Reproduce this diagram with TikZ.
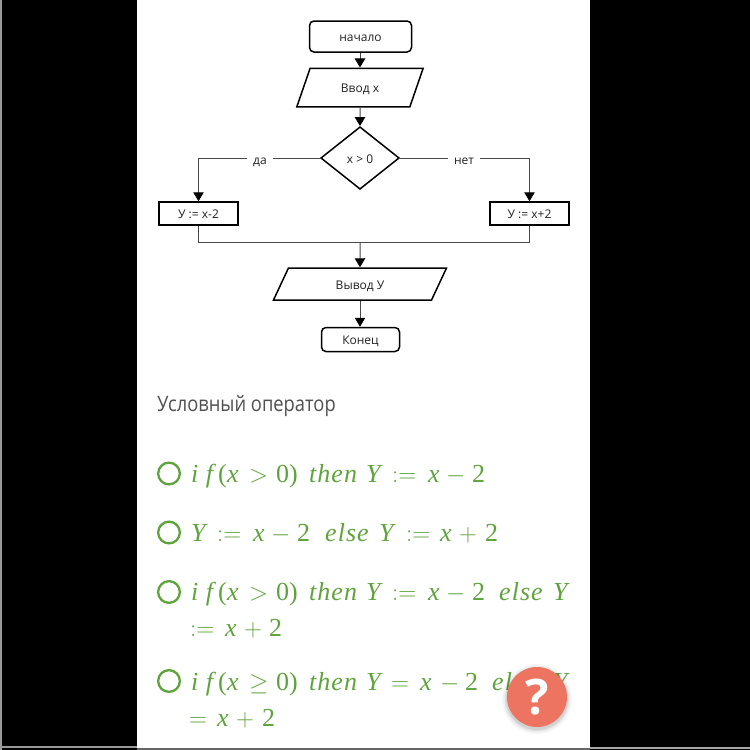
\documentclass[tikz,border=0pt]{standalone}
\usepackage{fontspec}
\setmainfont{Open Sans}
\newfontfamily\headf[FakeStretch=0.86]{Open Sans}
\newfontfamily\ansrm{Liberation Serif}
\newfontfamily\ansit[LetterSpace=4]{Liberation Serif Italic}
\usetikzlibrary{shapes.geometric,arrows.meta}
\definecolor{ansgreen}{HTML}{5FA33C}
\definecolor{ink}{HTML}{222222}
\definecolor{headc}{HTML}{505050}
\definecolor{fab}{HTML}{EC7460}
\newcommand{\flowtext}[1]{\rule{0pt}{10.4pt}\smash{#1}}
\tikzset{
 shapeline/.style={draw=black,line width=1.5pt,fill=white,inner sep=0pt},
 flowfont/.style={text=ink,font=\fontsize{12}{14}\selectfont},
 term/.style={shapeline,flowfont,rounded corners=4.5pt},
 proc/.style={shapeline,flowfont},
 para/.style={shapeline,flowfont,trapezium,trapezium stretches=true},
 decision/.style={shapeline,flowfont,diamond,aspect=1.26},
 conn/.style={draw=black!72,line width=1pt},
 arr/.style={conn,-{Triangle[length=9pt,width=10.5pt,color=black]}},
 lab/.style={flowfont,fill=white,inner xsep=6pt,inner ysep=2pt},
 radio/.style={circle,draw=ansgreen,line width=2.3pt,minimum size=21.7pt,inner sep=0pt},
 ans/.style={text=ansgreen,anchor=base west,inner sep=0pt,font=\ansrm\fontsize{26}{28}\selectfont},
 ansi/.style={ans,font=\ansit\fontsize{26}{28}\selectfont},
 ansm/.style={ans,font=\fontsize{25}{28}\selectfont},
}
\begin{document}
\begin{tikzpicture}[x=1pt,y=-1pt]
\useasboundingbox (0,0) rectangle (750,750);
\fill[black] (0,0) rectangle (750,750);
\fill[gray!80] (0,0) rectangle (2,750);
\fill[gray!80] (0,746) rectangle (137,748);
\fill[white] (137,0) rectangle (590,748);
\fill[black!60] (137,748) rectangle (590,750);
\fill[gray!70] (590,747) rectangle (750,749);
% nodes
\node[term,minimum width=102pt,minimum height=31pt] (start) at (360.5,36.5) {\flowtext{начало}};
\node[para,trapezium left angle=64,trapezium right angle=116,minimum width=126.5pt,minimum height=38.5pt] (input) at (360,87.5) {\flowtext{Ввод x}};
\node[decision,minimum width=78.5pt,minimum height=62.5pt] (cond) at (360,158) {\flowtext{x > 0}};
\node[proc,minimum width=79pt,minimum height=23pt] (left) at (198.5,213.5) {\flowtext{У := x-2}};
\node[proc,minimum width=79pt,minimum height=23pt] (right) at (529.5,213.5) {\flowtext{У := x+2}};
\node[para,trapezium left angle=64,trapezium right angle=116,minimum width=173.5pt,minimum height=32pt] (output) at (360,284) {\flowtext{Вывод У}};
\node[term,minimum width=78pt,minimum height=24pt] (stop) at (360.5,339.5) {\flowtext{Конец}};
\coordinate (mergeL) at (198.5,242); \coordinate (mergeR) at (529.5,242); \coordinate (mergeC) at (360,242);
\coordinate (turnL) at (198.5,158); \coordinate (turnR) at (529.5,158);
% connectors
\draw[arr] (start.south -| input.north) -- (input.north);
\draw[arr] (input.south) -- (cond.north);
\draw[arr] (cond.west) -- (turnL) -- (left.north);
\draw[arr] (cond.east) -- (turnR) -- (right.north);
\draw[conn] (left.south) -- (mergeL) -- (mergeR) -- (right.south);
\draw[arr] (mergeC) -- (output.north);
\draw[arr] (output.south) -- (stop.north -| output.south);
\node[lab] (da) at (260,159.5) {\flowtext{да}};
\node[lab] (net) at (464,159.5) {\flowtext{нет}};
% heading
\node[anchor=base west,inner sep=0pt,text=headc,font=\headf\fontsize{21.3}{24}\selectfont] (head) at (157,411) {Условный оператор};
% answers
\node[radio] (r1) at (169,473.5) {};
\node[radio] (r2) at (169,532.5) {};
\node[radio] (r3) at (169,592) {};
\node[radio] (r4) at (169,681) {};
% line 1
\node[ansi] (a1) at (191,482) {i f};
\node[ans] (a2) at (218,482) {(};
\node[ansi] (a3) at (227,482) {x};
\node[ansm] (a4) at (249,482) {$>$};
\node[ans] (a5) at (276,482) {0)};
\node[ansi] (a6) at (309,482) {then};
\node[ansi] (a7) at (366,482) {Y};
\node[ansm] (a8) at (392,482) {$:=$};
\node[ansi] (a9) at (428,482) {x};
\node[ansm] (a10) at (446,482) {$-$};
\node[ans] (a11) at (472,482) {2};
% line 2
\node[ansi] (b1) at (191,541) {Y};
\node[ansm] (b2) at (217,541) {$:=$};
\node[ansi] (b3) at (253,541) {x};
\node[ansm] (b4) at (271,541) {$-$};
\node[ans] (b5) at (297,541) {2};
\node[ansi] (b6) at (325,541) {else};
\node[ansi] (b7) at (379,541) {Y};
\node[ansm] (b8) at (406,541) {$:=$};
\node[ansi] (b9) at (440,541) {x};
\node[ansm] (b10) at (459,541) {$+$};
\node[ans] (b11) at (485,541) {2};
% line 3
\node[ansi] (c1) at (191,600) {i f};
\node[ans] (c2) at (218,600) {(};
\node[ansi] (c3) at (227,600) {x};
\node[ansm] (c4) at (249,600) {$>$};
\node[ans] (c5) at (276,600) {0)};
\node[ansi] (c6) at (309,600) {then};
\node[ansi] (c7) at (366,600) {Y};
\node[ansm] (c8) at (392,600) {$:=$};
\node[ansi] (c9) at (428,600) {x};
\node[ansm] (c10) at (446,600) {$-$};
\node[ans] (c11) at (472,600) {2};
\node[ansi] (c12) at (499,600) {else};
\node[ansi] (c13) at (553,600) {Y};
\node[ansm] (c14) at (190,636) {$:=$};
\node[ansi] (c15) at (225,636) {x};
\node[ansm] (c16) at (244,636) {$+$};
\node[ans] (c17) at (269,636) {2};
% line 4
\node[ansi] (d1) at (191,690) {i f};
\node[ans] (d2) at (218,690) {(};
\node[ansi] (d3) at (227,690) {x};
\node[ansm] (d4) at (249,690) {$\geq$};
\node[ans] (d5) at (276,690) {0)};
\node[ansi] (d6) at (309,690) {then};
\node[ansi] (d7) at (366,690) {Y};
\node[ansm] (d8) at (391,690) {$=$};
\node[ansi] (d9) at (420,690) {x};
\node[ansm] (d10) at (440,690) {$-$};
\node[ans] (d11) at (465,690) {2};
\node[ansi] (d12) at (492,690) {else};
\node[ansi] (d13) at (553,690) {Y};
\node[ansm] (d14) at (189,726) {$=$};
\node[ansi] (d15) at (217,726) {x};
\node[ansm] (d16) at (236,726) {$+$};
\node[ans] (d17) at (262,726) {2};
% help button
\foreach \r/\o in {35/.03,33.5/.04,32/.05,31/.06}{\fill[black,opacity=\o] (537,699) circle (\r pt);}
\node[circle,fill=fab,minimum size=60pt,inner sep=0pt,text=white,font=\bfseries\fontsize{49}{49}\selectfont] (help) at (537,697) {?};
\end{tikzpicture}
\end{document}
